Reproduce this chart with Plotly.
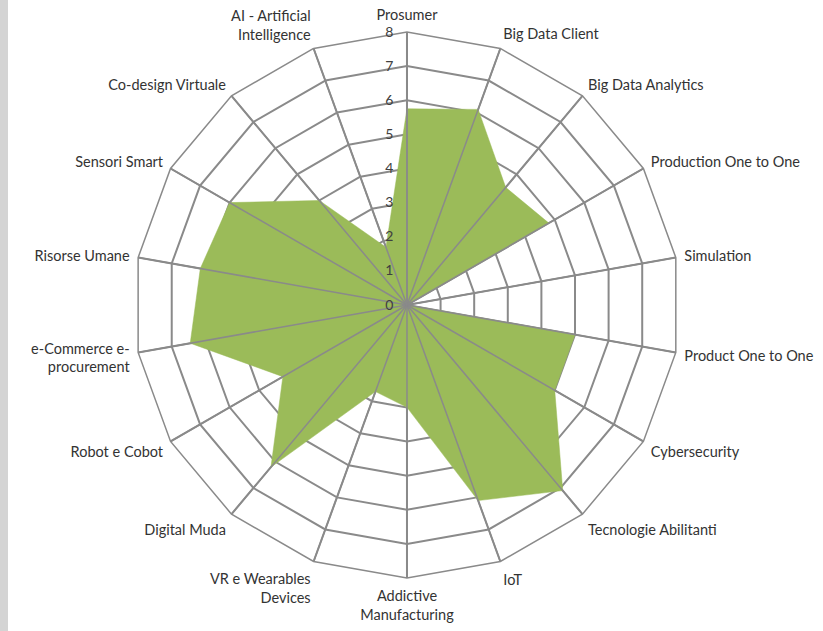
import plotly.graph_objects as go

categories = [
    "Prosumer", "Big Data Client", "Big Data Analytics", "Production One to One",
    "Simulation", "Product One to One", "Cybersecurity", "Tecnologie Abilitanti",
    "IoT", "Addictive<br>Manufacturing", "VR e Wearables<br>Devices", "Digital Muda",
    "Robot e Cobot", "e-Commerce e-<br>procurement", "Risorse Umane", "Sensori Smart",
    "Co-design Virtuale", "AI - Artificial<br>Intelligence",
]
values = [5.75, 6.1, 4.5, 4.8, 0.0, 5.0, 5.0, 7.1, 6.1, 3.0, 2.7, 6.2, 4.2, 6.45, 6.15, 6.0, 4.0, 1.8]
radial_ticks = [0, 1, 2, 3, 4, 5, 6, 7, 8]

GRID = "#8a8a8a"
GREEN = "#9BBB59"

fig = go.Figure()

fig.add_trace(go.Scatterpolar(
    r=values + [values[0]],
    theta=categories + [categories[0]],
    mode="lines",
    fill="toself",
    fillcolor=GREEN,
    line=dict(color=GREEN, width=0.5),
    hoverinfo="skip",
    showlegend=False,
))

# spokes drawn above the filled area
spoke_r, spoke_t = [], []
for c in categories:
    spoke_r += [radial_ticks[0], radial_ticks[-1], None]
    spoke_t += [c, c, None]
fig.add_trace(go.Scatterpolar(
    r=spoke_r, theta=spoke_t, mode="lines",
    line=dict(color=GRID, width=1.5),
    hoverinfo="skip", showlegend=False, connectgaps=False,
))
fig.add_trace(go.Scatterpolar(
    r=[0], theta=[categories[0]], mode="markers",
    marker=dict(color=GRID, size=6),
    hoverinfo="skip", showlegend=False,
))

fig.update_layout(
    width=823, height=631,
    margin=dict(l=0, r=0, t=0, b=0),
    paper_bgcolor="white",
    font=dict(family="Lato, Open Sans, sans-serif", size=14.5, color="#333333"),
    shapes=[dict(type="rect", xref="paper", yref="paper", x0=0, x1=0.0097, y0=0, y1=1,
                 fillcolor="#d4d4d4", line=dict(width=0), layer="below")],
    polar=dict(
        domain=dict(x=[0.1628, 0.8262], y=[0.084, 0.9493]),
        bgcolor="white",
        gridshape="linear",
        radialaxis=dict(
            range=[0, 8], tickvals=radial_ticks, angle=90, tickangle=90,
            side="counterclockwise",
            showline=True, linecolor=GRID, linewidth=1.5,
            gridcolor=GRID, gridwidth=1.5,
            ticks="outside", ticklen=8, tickcolor="rgba(0,0,0,0)",
            tickfont=dict(size=14, color="#404040"),
        ),
        angularaxis=dict(
            rotation=90, direction="clockwise",
            categoryorder="array", categoryarray=categories,
            showline=True, linecolor=GRID, linewidth=1.5,
            gridcolor=GRID, gridwidth=1.5,
            ticks="outside", ticklen=5, tickcolor="rgba(0,0,0,0)",
            tickfont=dict(size=14.5, color="#333333"),
        ),
    ),
)

fig.write_html("out.html")
